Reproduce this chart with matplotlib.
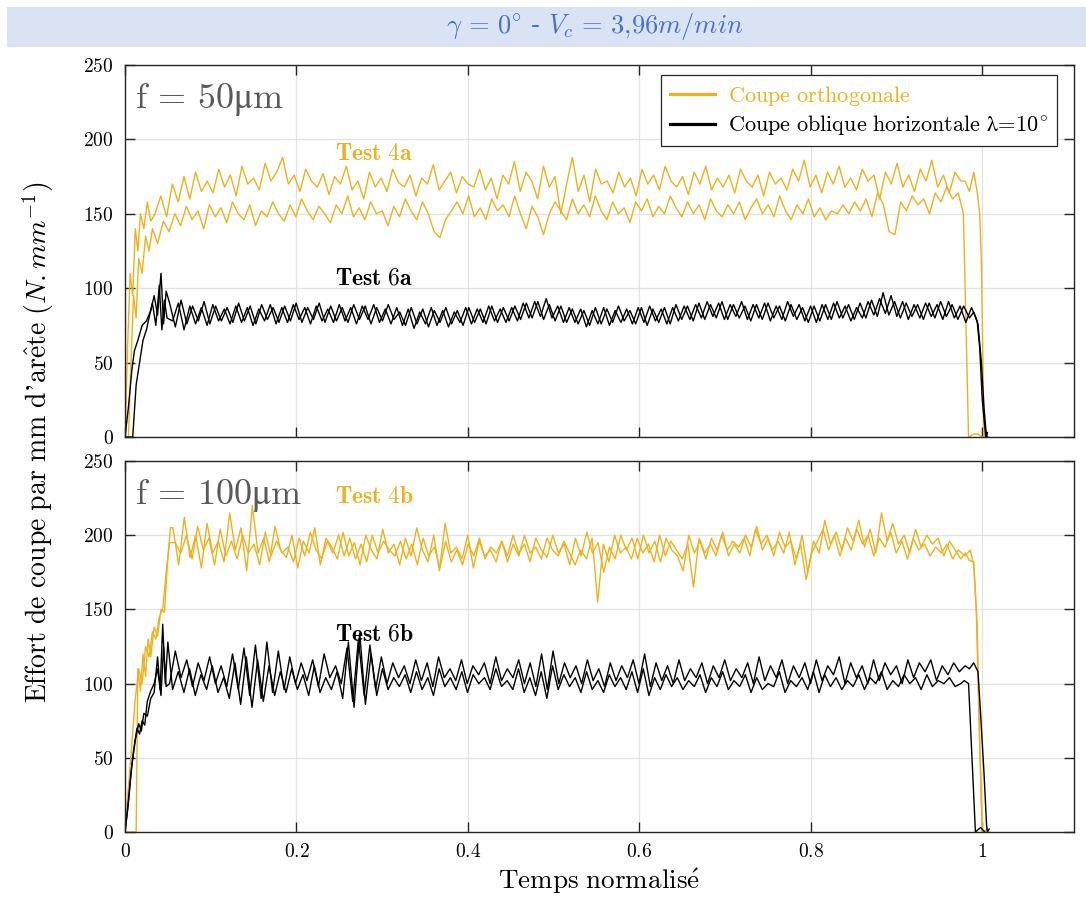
import numpy as np
import matplotlib
matplotlib.use('Agg')
import matplotlib.pyplot as plt
from matplotlib.patches import Rectangle
from matplotlib.lines import Line2D
from matplotlib.ticker import FuncFormatter

plt.rcParams['mathtext.fontset'] = 'cm'
plt.rcParams['font.family'] = ['DejaVu Serif']

ORANGE = '#EDB120'

# ---------------- data ----------------
# Test 4a (orange, f=50) - trace A (upper) and B (lower)
a_start_x = [0, 0.003, 0.006, 0.009, 0.012, 0.015, 0.018, 0.022, 0.026, 0.030]
a_start_y = [0, 60, 110, 95, 140, 125, 150, 140, 158, 145]
a_plateau = (0.035, 0.975)
a_vals = [150, 162, 148, 170, 158, 175, 160, 178, 165, 172,
          164, 180, 168, 176, 162, 182, 170, 174, 166, 184,
          172, 178, 188, 170, 176, 165, 180, 172, 168, 177,
          163, 175, 170, 182, 166, 172, 160, 178, 168, 174,
          165, 180, 171, 168, 176, 162, 174, 170, 183, 166,
          172, 178, 164, 175, 170, 168, 180, 166, 174, 160,
          176, 170, 185, 165, 178, 172, 160, 182, 168, 175,
          150, 170, 188, 165, 176, 158, 180, 170, 172, 164,
          178, 168, 174, 162, 180, 170, 176, 166, 182, 172,
          168, 175, 163, 178, 170, 182, 166, 174, 168, 176,
          164, 180, 172, 168, 176, 162, 178, 170, 174, 166,
          180, 172, 186, 168, 176, 164, 178, 170, 182, 168,
          174, 166, 180, 172, 176, 160, 178, 170, 184, 168,
          176, 165, 180, 172, 186, 168, 176, 164, 178, 172]
a_end_x = [0.980, 0.985, 0.990, 0.994, 0.997, 0.999, 1.002, 1.008]
a_end_y = [172, 165, 178, 165, 150, 118, 0, 0]

b_start_x = [0, 0.004, 0.007, 0.010, 0.013, 0.016, 0.020, 0.024, 0.028, 0.032]
b_start_y = [0, 0, 50, 95, 80, 120, 110, 135, 125, 140]
b_plateau = (0.038, 0.972)
b_vals = [130, 145, 138, 150, 142, 155, 146, 152, 140, 156,
          148, 154, 144, 158, 150, 146, 156, 142, 152, 148,
          158, 150, 145, 156, 148, 160, 152, 146, 155, 150,
          144, 156, 150, 162, 148, 154, 146, 158, 150, 152,
          142, 155, 148, 160, 152, 146, 158, 150, 138, 134,
          146, 152, 158, 150, 162, 148, 154, 146, 160, 152,
          156, 148, 162, 150, 140, 155, 148, 136, 150, 158,
          152, 146, 160, 150, 156, 148, 162, 152, 146, 158,
          150, 154, 144, 158, 152, 160, 148, 155, 150, 162,
          154, 148, 158, 150, 156, 146, 160, 152, 148, 156,
          150, 158, 146, 154, 160, 150, 156, 148, 162, 152,
          146, 156, 150, 160, 148, 154, 146, 152, 150, 156,
          150, 158, 152, 160, 148, 164, 156, 138, 136, 158,
          152, 162, 156, 160, 150, 164, 158, 168, 160, 164]
b_end_x = [0.978, 0.984, 0.990, 0.995, 1.000]
b_end_y = [150, 0, 2, 2, 0]

# Test 6a (black, f=50) - traces C and D
c_start_x = [0, 0.004, 0.008, 0.011, 0.015, 0.020, 0.025, 0.030, 0.034, 0.038, 0.042, 0.045, 0.048]
c_start_y = [0, 20, 45, 58, 65, 75, 78, 85, 95, 82, 110, 76, 98]
c_plateau = (0.052, 0.985)
c_vals = [90, 74, 92, 76, 88, 78, 91, 76, 88, 78,
          87, 77, 90, 78, 88, 76, 89, 79, 87, 77,
          88, 78, 90, 77, 87, 79, 90, 77, 88, 78,
          87, 77, 89, 79, 88, 76, 87, 78, 89, 79,
          84, 75, 87, 76, 86, 74, 85, 77, 87, 76,
          85, 75, 87, 77, 86, 76, 88, 77, 87, 78,
          88, 79, 90, 80, 91, 79, 89, 78, 88, 77,
          86, 76, 85, 75, 87, 76, 86, 77, 88, 78,
          85, 76, 87, 75, 86, 77, 87, 76, 89, 79,
          88, 78, 90, 79, 89, 80, 91, 79, 89, 80,
          88, 78, 89, 79, 90, 80, 88, 78, 89, 79,
          87, 77, 88, 78, 89, 79, 91, 80, 89, 79,
          90, 80, 92, 81, 97, 82, 91, 80, 90, 81,
          89, 79, 90, 80, 91, 81, 89, 79, 88, 80]
c_end_x = [0.990, 0.994, 0.997, 1.000, 1.004, 1.006]
c_end_y = [84, 78, 60, 25, 0, 0]

d_start_x = [0, 0.009, 0.013, 0.017, 0.021, 0.025, 0.028, 0.032, 0.036, 0.040, 0.043, 0.046, 0.049]
d_start_y = [0, 0, 35, 50, 65, 72, 80, 90, 75, 102, 72, 92, 80]
d_plateau = (0.0555, 0.9875)
d_vals = [78, 90, 72, 88, 76, 87, 75, 89, 78, 86,
          76, 88, 77, 87, 75, 86, 78, 89, 76, 87,
          77, 89, 79, 87, 76, 88, 78, 86, 77, 89,
          78, 87, 76, 88, 79, 89, 77, 86, 76, 87,
          75, 86, 73, 84, 76, 87, 75, 85, 74, 84,
          77, 87, 76, 86, 77, 88, 78, 86, 77, 87,
          78, 90, 80, 91, 81, 93, 80, 88, 77, 87,
          77, 86, 74, 85, 76, 87, 75, 85, 77, 86,
          76, 87, 77, 88, 78, 86, 76, 87, 78, 88,
          79, 89, 80, 91, 81, 90, 79, 89, 81, 91,
          79, 89, 80, 90, 78, 88, 79, 91, 81, 89,
          78, 88, 77, 89, 79, 90, 80, 88, 78, 87,
          80, 91, 82, 93, 83, 95, 81, 91, 79, 89,
          80, 90, 81, 89, 79, 91, 80, 88, 77, 87]
d_end_x = [0.991, 0.995, 0.999, 1.002, 1.005, 1.006]
d_end_y = [82, 76, 50, 20, 0, 3]

# Test 4b (orange, f=100) - traces E and F
e_start_x = [0, 0.013, 0.015, 0.018, 0.021, 0.024, 0.027, 0.030, 0.034, 0.038, 0.042, 0.046, 0.050, 0.053]
e_start_y = [0, 0, 110, 95, 120, 105, 130, 118, 138, 132, 150, 148, 185, 205]
e_plateau = (0.056, 0.975)
e_vals = [205, 180, 212, 185, 200, 178, 208, 188, 196, 182,
          215, 190, 205, 176, 220, 188, 198, 182, 206, 190,
          185, 200, 178, 196, 188, 205, 180, 198, 192, 184,
          202, 186, 195, 180, 200, 190, 184, 204, 188, 194,
          180, 198, 186, 205, 190, 182, 200, 176, 208, 188,
          192, 184, 200, 178, 196, 186, 190, 182, 196, 186,
          200, 188, 194, 182, 198, 190, 185, 200, 188, 194,
          180, 198, 186, 202, 188, 195, 175, 192, 184, 200,
          190, 198, 184, 200, 188, 196, 182, 198, 190, 186,
          176, 200, 188, 196, 184, 198, 190, 202, 186, 194,
          188, 200, 192, 206, 190, 198, 186, 202, 192, 196,
          184, 200, 175, 196, 188, 210, 194, 202, 190, 205,
          196, 210, 192, 204, 188, 215, 196, 208, 194, 200,
          188, 204, 192, 200, 194, 198, 186, 196, 190, 184]
e_end_x = [0.980, 0.985, 0.990, 0.993, 0.996, 0.999, 1.000, 1.006, 1.008]
e_end_y = [188, 183, 182, 150, 80, 20, 0, 2, 0]

f_start_x = [0, 0.004, 0.008, 0.012, 0.016, 0.020, 0.024, 0.028, 0.032, 0.036, 0.040, 0.044, 0.048, 0.052]
f_start_y = [0, 30, 60, 90, 110, 100, 125, 118, 135, 130, 145, 150, 175, 195]
f_plateau = (0.0585, 0.972)
f_vals = [195, 188, 200, 184, 206, 190, 198, 180, 204, 186,
          196, 184, 200, 188, 194, 180, 202, 186, 196, 188,
          192, 182, 198, 186, 202, 190, 184, 196, 188, 200,
          186, 198, 184, 194, 182, 200, 188, 196, 190, 186,
          196, 184, 194, 180, 198, 186, 192, 178, 196, 182,
          190, 180, 194, 186, 198, 184, 192, 188, 196, 182,
          194, 186, 200, 188, 192, 184, 198, 190, 186, 196,
          188, 180, 190, 184, 198, 155, 194, 182, 200, 188,
          192, 184, 198, 188, 194, 182, 200, 186, 196, 190,
          184, 194, 165, 198, 188, 194, 186, 200, 190, 196,
          192, 198, 186, 204, 194, 200, 190, 196, 188, 202,
          180, 194, 170, 188, 196, 204, 190, 200, 186, 198,
          190, 204, 194, 200, 186, 198, 192, 202, 188, 196,
          184, 198, 190, 194, 186, 192, 188, 194, 184, 190]
f_end_x = [0.980, 0.986, 0.990, 0.994, 0.997, 1.000, 1.004]
f_end_y = [186, 190, 180, 140, 60, 0, 0]

# Test 6b (black, f=100) - traces G and H
g_start_x = [0, 0.003, 0.007, 0.010, 0.014, 0.017, 0.020, 0.023, 0.026, 0.030, 0.034, 0.038, 0.042, 0.045, 0.048]
g_start_y = [0, 15, 40, 55, 70, 66, 75, 72, 88, 95, 100, 110, 92, 125, 98]
g_plateau = (0.052, 0.980)
g_vals = [100, 122, 104, 116, 98, 114, 102, 118, 100, 112,
          98, 120, 96, 124, 92, 126, 90, 128, 94, 122,
          96, 118, 100, 114, 102, 116, 98, 120, 104, 112,
          100, 124, 88, 130, 92, 126, 96, 118, 100, 114,
          104, 112, 100, 116, 102, 114, 98, 118, 104, 110,
          102, 116, 100, 112, 106, 114, 100, 118, 102, 110,
          104, 116, 100, 114, 98, 120, 96, 122, 100, 114,
          104, 112, 100, 116, 102, 110, 98, 114, 102, 112,
          104, 116, 100, 120, 98, 114, 102, 112, 100, 116,
          102, 110, 104, 114, 100, 112, 104, 116, 102, 110,
          104, 114, 100, 118, 102, 112, 104, 116, 100, 112,
          104, 114, 100, 116, 102, 112, 106, 118, 100, 114,
          104, 112, 100, 116, 102, 114, 106, 112, 100, 116,
          104, 114, 108, 116, 102, 112, 106, 114, 108, 112]
g_end_x = [0.985, 0.990, 0.995, 0.998, 1.002, 1.005, 1.006, 1.008]
g_end_y = [110, 114, 108, 80, 40, 5, 0, 2]

h_start_x = [0, 0.004, 0.008, 0.012, 0.016, 0.019, 0.022, 0.026, 0.030, 0.034, 0.038, 0.041, 0.044, 0.047, 0.050]
h_start_y = [0, 20, 45, 62, 73, 68, 80, 78, 90, 94, 118, 96, 140, 100, 128]
h_plateau = (0.0555, 0.975)
h_vals = [96, 108, 94, 110, 92, 106, 96, 112, 94, 104,
          90, 114, 86, 118, 84, 116, 88, 112, 92, 108,
          94, 110, 96, 106, 92, 112, 94, 104, 96, 108,
          90, 128, 84, 134, 86, 120, 92, 110, 96, 104,
          98, 106, 94, 108, 96, 104, 92, 110, 98, 104,
          96, 108, 94, 106, 100, 104, 96, 110, 98, 102,
          96, 110, 94, 104, 92, 108, 90, 112, 96, 106,
          98, 104, 94, 108, 96, 102, 94, 106, 98, 104,
          96, 108, 94, 110, 92, 104, 96, 106, 98, 104,
          96, 102, 98, 106, 94, 104, 98, 108, 96, 102,
          98, 106, 94, 104, 96, 100, 98, 108, 94, 102,
          98, 104, 96, 108, 94, 106, 98, 104, 96, 102,
          98, 106, 96, 104, 100, 108, 96, 102, 98, 106,
          100, 104, 96, 106, 98, 102, 100, 104, 98, 100]
h_end_x = [0.979, 0.984, 0.988, 0.992, 0.998, 1.003]
h_end_y = [102, 100, 50, 0, 3, 0]

x_ticks = [0, 0.2, 0.4, 0.6, 0.8, 1]
y_ticks = [0, 50, 100, 150, 200, 250]


def build(sx, sy, prange, pv, ex, ey):
    px = np.linspace(prange[0], prange[1], len(pv))
    return (np.concatenate([sx, px, ex]), np.concatenate([sy, pv, ey]))


fig = plt.figure(figsize=(10.86, 8.98), dpi=100)

# title band
fig.add_artist(Rectangle((7 / 1086, (898 - 47) / 898), 1 - 7 / 1086, 40 / 898,
                         transform=fig.transFigure, facecolor='#dae3f3',
                         edgecolor='none'))
fig.text(0.548, 0.970, r'$\gamma\,=\,0^{\circ}$ - $V_c\,=\,3{,}96m/min$',
         ha='center', va='center', color='#4472c4', fontsize=19)

ax1 = fig.add_axes([125 / 1086, (898 - 437) / 898, 949 / 1086, 372 / 898])
ax2 = fig.add_axes([125 / 1086, (898 - 832) / 898, 949 / 1086, 371 / 898])

fmt = FuncFormatter(lambda v, p: r'$\mathrm{%s}$' % ('%g' % v))

for ax in (ax1, ax2):
    ax.set_xlim(0, 1.107)
    ax.set_ylim(0, 250)
    ax.set_xticks(x_ticks)
    ax.set_yticks(y_ticks)
    ax.grid(True, color='#e2e2e2', linewidth=0.9)
    ax.set_axisbelow(True)
    ax.tick_params(direction='in', top=True, right=True, length=7,
                   width=1.0, labelsize=14, color='#262626', pad=8)
    ax.yaxis.set_major_formatter(fmt)
    ax.xaxis.set_major_formatter(fmt)
    for s in ax.spines.values():
        s.set_color('#262626')
        s.set_linewidth(1.0)

ax1.tick_params(labelbottom=False)

lw = 1.0
for (sx, sy, pr, pv, ex, ey) in [
        (a_start_x, a_start_y, a_plateau, a_vals, a_end_x, a_end_y),
        (b_start_x, b_start_y, b_plateau, b_vals, b_end_x, b_end_y)]:
    x, y = build(sx, sy, pr, pv, ex, ey)
    ax1.plot(x, y, color=ORANGE, lw=lw)
for (sx, sy, pr, pv, ex, ey) in [
        (c_start_x, c_start_y, c_plateau, c_vals, c_end_x, c_end_y),
        (d_start_x, d_start_y, d_plateau, d_vals, d_end_x, d_end_y)]:
    x, y = build(sx, sy, pr, pv, ex, ey)
    ax1.plot(x, y, color='black', lw=lw)
for (sx, sy, pr, pv, ex, ey) in [
        (e_start_x, e_start_y, e_plateau, e_vals, e_end_x, e_end_y),
        (f_start_x, f_start_y, f_plateau, f_vals, f_end_x, f_end_y)]:
    x, y = build(sx, sy, pr, pv, ex, ey)
    ax2.plot(x, y, color=ORANGE, lw=lw)
for (sx, sy, pr, pv, ex, ey) in [
        (g_start_x, g_start_y, g_plateau, g_vals, g_end_x, g_end_y),
        (h_start_x, h_start_y, h_plateau, h_vals, h_end_x, h_end_y)]:
    x, y = build(sx, sy, pr, pv, ex, ey)
    ax2.plot(x, y, color='black', lw=lw)

# panel labels
ax1.text(0.011, 0.885, r'$\mathrm{f}\,=\,\mathrm{50μm}$', transform=ax1.transAxes,
         fontsize=26, color='#595959', ha='left', va='baseline')
ax2.text(0.011, 0.885, r'$\mathrm{f}\,=\,\mathrm{100μm}$', transform=ax2.transAxes,
         fontsize=26, color='#595959', ha='left', va='baseline')

ax1.text(0.245, 186, r'$\mathbf{Test\ 4a}$', color=ORANGE, fontsize=17,
         ha='left', va='baseline')
ax1.text(0.245, 102.5, r'$\mathbf{Test\ 6a}$', color='black', fontsize=17,
         ha='left', va='baseline')
ax2.text(0.245, 222, r'$\mathbf{Test\ 4b}$', color=ORANGE, fontsize=17,
         ha='left', va='baseline')
ax2.text(0.245, 129, r'$\mathbf{Test\ 6b}$', color='black', fontsize=17,
         ha='left', va='baseline')

handles = [Line2D([], [], color=ORANGE, lw=2.3),
           Line2D([], [], color='black', lw=2.3)]
labels = [r'$\mathrm{Coupe\ orthogonale}$',
          r'$\mathrm{Coupe\ oblique\ horizontale\ λ\!=\!10^{\circ}}$']
leg = ax1.legend(handles, labels, loc='upper right',
                 bbox_to_anchor=(0.982, 0.973), borderaxespad=0,
                 fontsize=16, fancybox=False, framealpha=1,
                 edgecolor='#262626', handlelength=2.0, handletextpad=0.6,
                 borderpad=0.4, labelspacing=0.25)
leg.get_frame().set_linewidth(0.9)
leg.get_texts()[0].set_color(ORANGE)

fig.text(0.035, 0.508,
         r'$\mathrm{Effort\ de\ coupe\ par\ mm\ d’ar\hat{e}te}\ (\mathit{N.mm}^{-1})$',
         rotation=90, ha='center', va='center', fontsize=20)
fig.text(0.552, 0.010, r'$\mathrm{Temps\ normalis\acute{e}}$',
         ha='center', va='baseline', fontsize=19.5)

fig.savefig('out.png', dpi=100)
